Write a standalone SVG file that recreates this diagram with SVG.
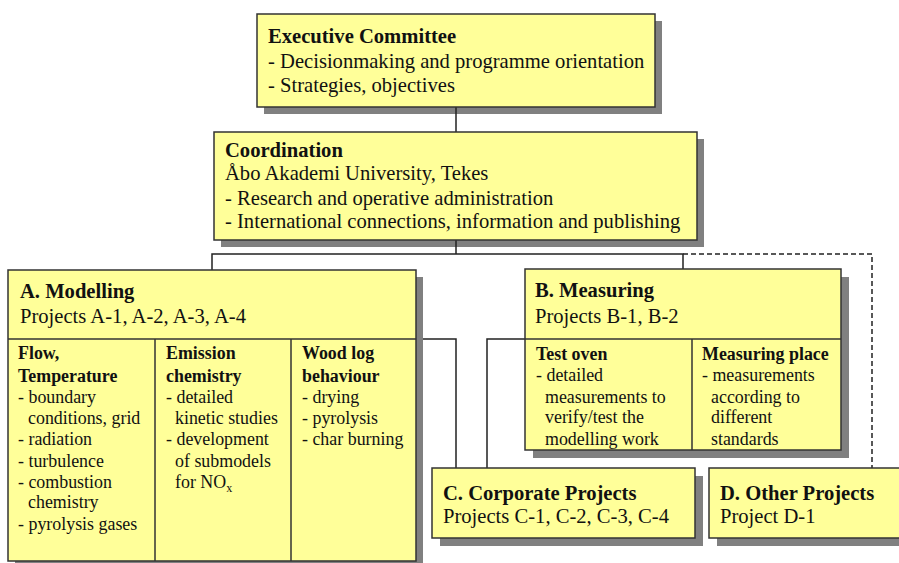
<svg xmlns="http://www.w3.org/2000/svg" width="899" height="563" viewBox="0 0 899 563">
<defs>
<style>
.box{fill:#ffff99;stroke:#333;stroke-width:1.5}
.sh{fill:#808080}
.div{stroke:#333;stroke-width:1.5;fill:none}
.con{stroke:#222;stroke-width:1.5;fill:none}
.dash{stroke:#222;stroke-width:1.5;fill:none;stroke-dasharray:5 3}
text{font-family:"Liberation Serif","Times New Roman",serif;fill:#111}
.t{font-size:20.6px}
.tb{font-size:20.6px;font-weight:bold}
.s{font-size:17.9px}
.sb{font-size:17.9px;font-weight:bold}
</style>
</defs>
<rect width="899" height="563" fill="#fff"/>
<g id="shadows">
<rect class="sh" x="264" y="21" width="398" height="93"/>
<rect class="sh" x="221" y="139" width="483" height="108"/>
<rect class="sh" x="15" y="277" width="408" height="291"/>
<rect class="sh" x="533" y="277" width="316" height="181"/>
<rect class="sh" x="440" y="476" width="263" height="70"/>
<rect class="sh" x="717" y="476" width="190" height="70"/>
</g>
<g id="connectors">
<line class="con" x1="456" y1="107" x2="456" y2="132"/>
<line class="con" x1="456" y1="240" x2="456" y2="254"/>
<polyline class="con" points="212,270 212,254 683,254 683,269"/>
<polyline class="dash" points="683,254 872,254 872,469"/>
<polyline class="con" points="423,339 456,339 456,468"/>
<polyline class="con" points="525,339 487,339 487,468"/>
</g>
<g id="executive">
<rect class="box" x="257" y="14" width="398" height="93"/>
<text class="tb" x="268" y="43">Executive Committee</text>
<text class="t" x="268" y="68">- Decisionmaking and programme orientation</text>
<text class="t" x="268" y="92">- Strategies, objectives</text>
</g>
<g id="coordination">
<rect class="box" x="214" y="132" width="483" height="108"/>
<text class="tb" x="225" y="157">Coordination</text>
<text class="t" x="225" y="180">Åbo Akademi University, Tekes</text>
<text class="t" x="225" y="205">- Research and operative administration</text>
<text class="t" x="225" y="228">- International connections, information and publishing</text>
</g>
<g id="modelling">
<rect class="box" x="8" y="270" width="408" height="291"/>
<line class="div" x1="8" y1="339" x2="416" y2="339"/>
<line class="div" x1="155" y1="339" x2="155" y2="561"/>
<line class="div" x1="291" y1="339" x2="291" y2="561"/>
<text class="tb" x="20" y="298">A. Modelling</text>
<text class="t" x="20" y="323">Projects A-1, A-2, A-3, A-4</text>
<text class="sb" x="18" y="359">Flow,</text>
<text class="sb" x="18" y="382">Temperature</text>
<text class="s" x="18" y="403">- boundary</text>
<text class="s" x="28" y="424">conditions, grid</text>
<text class="s" x="18" y="445">- radiation</text>
<text class="s" x="18" y="467">- turbulence</text>
<text class="s" x="18" y="488">- combustion</text>
<text class="s" x="28" y="508">chemistry</text>
<text class="s" x="18" y="530">- pyrolysis gases</text>
<text class="sb" x="166" y="359">Emission</text>
<text class="sb" x="166" y="382">chemistry</text>
<text class="s" x="166" y="403">- detailed</text>
<text class="s" x="175" y="424">kinetic studies</text>
<text class="s" x="166" y="445">- development</text>
<text class="s" x="175" y="467">of submodels</text>
<text class="s" x="175" y="488">for NO<tspan font-size="12" dy="4">x</tspan></text>
<text class="sb" x="302" y="359">Wood log</text>
<text class="sb" x="302" y="382">behaviour</text>
<text class="s" x="302" y="403">- drying</text>
<text class="s" x="302" y="424">- pyrolysis</text>
<text class="s" x="302" y="445">- char burning</text>
</g>
<g id="measuring">
<rect class="box" x="525" y="269" width="316" height="181"/>
<line class="div" x1="525" y1="339" x2="841" y2="339"/>
<line class="div" x1="692" y1="339" x2="692" y2="450"/>
<text class="tb" x="535" y="297">B. Measuring</text>
<text class="t" x="535" y="323">Projects B-1, B-2</text>
<text class="sb" x="536" y="360">Test oven</text>
<text class="s" x="536" y="381">- detailed</text>
<text class="s" x="545" y="403">measurements to</text>
<text class="s" x="545" y="423">verify/test the</text>
<text class="s" x="545" y="445">modelling work</text>
<text class="sb" x="702" y="360">Measuring place</text>
<text class="s" x="702" y="381">- measurements</text>
<text class="s" x="711" y="403">according to</text>
<text class="s" x="711" y="423">different</text>
<text class="s" x="711" y="445">standards</text>
</g>
<g id="corporate">
<rect class="box" x="432" y="468" width="263" height="70"/>
<text class="tb" x="443" y="500">C. Corporate Projects</text>
<text class="t" x="443" y="523">Projects C-1, C-2, C-3, C-4</text>
</g>
<g id="other">
<rect class="box" x="709" y="468" width="195" height="70"/>
<text class="tb" x="720" y="500">D. Other Projects</text>
<text class="t" x="720" y="523">Project D-1</text>
</g>
</svg>
